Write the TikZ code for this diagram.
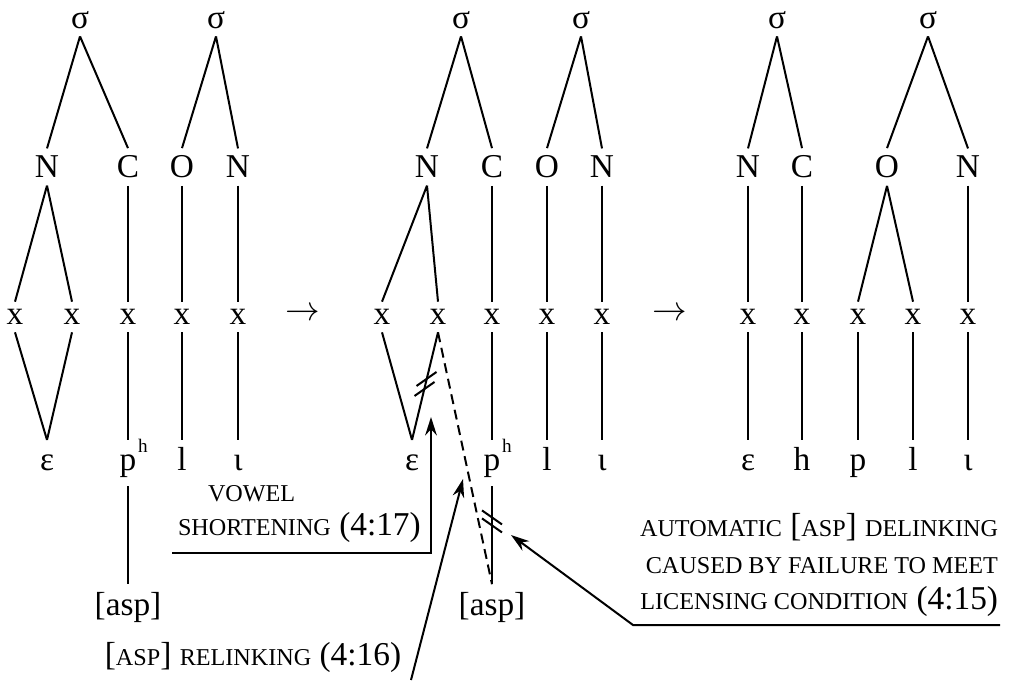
\documentclass[tikz,border=0pt]{standalone}
\usepackage{fontspec}
\setmainfont{Liberation Serif}
\usetikzlibrary{arrows.meta}
\newcommand\smc[1]{{\fontsize{14.5}{22}\selectfont #1}}
\newcommand\paspir{p\rlap{\kern1pt\raisebox{1.2ex}{\fontsize{11.5}{11.5}\selectfont h}}}

\begin{document}
\begin{tikzpicture}[x=0.6pt,y=-0.6pt,line width=1.2pt,>={Stealth[length=11pt,width=7pt]},
  every node/.style={inner sep=4pt,font=\fontsize{20}{22}\selectfont},
  seg/.style={text height=14pt,text depth=4.5pt},
  lbl/.style={inner sep=0pt}]
  \useasboundingbox (0,0) rectangle (1009,680);
  % input form
  \node (s1a) at (80,20) {σ};
  \node (s1b) at (216,20) {σ};
  \node (n1a) at (47,167) {N};
  \node (c1a) at (128,167) {C};
  \node (o1b) at (182,167) {O};
  \node (n1b) at (238,167) {N};
  \node (x1a) at (15,317) {x};
  \node (x1b) at (72,317) {x};
  \node (x1c) at (128,317) {x};
  \node (x1d) at (182,317) {x};
  \node (x1e) at (238,317) {x};
  \node[seg] (e1) at (47,463) {ε};
  \node[seg] (p1) at (128,463) {\paspir};
  \node[seg] (l1) at (182,463) {l};
  \node[seg] (i1) at (238,463) {ι};
  \node (asp1) at (128,607) {[asp]};
  \draw (s1a.south) -- (n1a.north) (s1a.south) -- (c1a.north);
  \draw (s1b.south) -- (o1b.north) (s1b.south) -- (n1b.north);
  \draw (n1a.south) -- (x1a.north) (n1a.south) -- (x1b.north);
  \draw (c1a) -- (x1c) (o1b) -- (x1d) (n1b) -- (x1e);
  \draw (x1a.south) -- (e1.north) (x1b.south) -- (e1.north);
  \draw (x1c) -- (p1) (x1d) -- (l1) (x1e) -- (i1);
  \draw (p1) -- (asp1);
  \node (ar1) at (303,314) {$\rightarrow$};
  % intermediate form
  \node (s2a) at (461,20) {σ};
  \node (s2b) at (581,20) {σ};
  \node (n2a) at (427,167) {N};
  \node (c2a) at (492,167) {C};
  \node (o2b) at (547,167) {O};
  \node (n2b) at (602,167) {N};
  \node (x2a) at (382,317) {x};
  \node (x2b) at (438,317) {x};
  \node (x2c) at (492,317) {x};
  \node (x2d) at (547,317) {x};
  \node (x2e) at (602,317) {x};
  \node[seg] (e2) at (412,463) {ε};
  \node[seg] (p2) at (492,463) {\paspir};
  \node[seg] (l2) at (547,463) {l};
  \node[seg] (i2) at (602,463) {ι};
  \node (asp2) at (492,607) {[asp]};
  \draw (s2a.south) -- (n2a.north) (s2a.south) -- (c2a.north);
  \draw (s2b.south) -- (o2b.north) (s2b.south) -- (n2b.north);
  \draw (n2a.south) -- (x2a.north) (n2a.south) -- (x2b.north);
  \draw (c2a) -- (x2c) (o2b) -- (x2d) (n2b) -- (x2e);
  \draw (x2a.south) -- (e2.north) (x2b.south) -- (e2.north) coordinate[pos=.48] (cutA);
  \draw (x2c) -- (p2) (x2d) -- (l2) (x2e) -- (i2);
  \draw (p2) -- (asp2) coordinate[pos=.36] (cutB);
  \draw[dashed,dash pattern=on 6pt off 3.5pt] (x2b.south) -- (asp2.north);
  % delinking marks
  \draw ([shift={(-11,12)}]cutA) -- ([shift={(9,-2)}]cutA);
  \draw ([shift={(-9,2)}]cutA) -- ([shift={(11,-12)}]cutA);
  \draw ([shift={(-10,-11)}]cutB) -- ([shift={(10,3)}]cutB);
  \draw ([shift={(-10,-3)}]cutB) -- ([shift={(10,11)}]cutB);
  \node (ar2) at (670,314) {$\rightarrow$};
  % output form
  \node (s3a) at (777,20) {σ};
  \node (s3b) at (928,20) {σ};
  \node (n3a) at (748,167) {N};
  \node (c3a) at (802,167) {C};
  \node (o3b) at (887,167) {O};
  \node (n3b) at (968,167) {N};
  \node (x3a) at (748,317) {x};
  \node (x3b) at (802,317) {x};
  \node (x3c) at (858,317) {x};
  \node (x3d) at (913,317) {x};
  \node (x3e) at (968,317) {x};
  \node[seg] (e3) at (748,463) {ε};
  \node[seg] (h3) at (802,463) {h};
  \node[seg] (p3) at (858,463) {p};
  \node[seg] (l3) at (913,463) {l};
  \node[seg] (i3) at (968,463) {ι};
  \draw (s3a.south) -- (n3a.north) (s3a.south) -- (c3a.north);
  \draw (s3b.south) -- (o3b.north) (s3b.south) -- (n3b.north);
  \draw (n3a) -- (x3a) (c3a) -- (x3b) (n3b) -- (x3e);
  \draw (o3b.south) -- (x3c.north) (o3b.south) -- (x3d.north);
  \draw (x3a) -- (e3) (x3b) -- (h3) (x3c) -- (p3) (x3d) -- (l3) (x3e) -- (i3);
  % rule labels
  \node[lbl,anchor=west,align=left,font=\fontsize{20}{20}\selectfont] (vsTxt) at (177,514)
    {\hspace*{18pt}\smc{VOWEL}\\ \smc{SHORTENING} (4:17)};
  \node[lbl] (rlTxt) at (253,657) {[\smc{ASP}] \smc{RELINKING} (4:16)};
  \node[lbl,anchor=east,align=right] (dlTxt) at (999,565)
    {\smc{AUTOMATIC} [\smc{ASP}] \smc{DELINKING}\\ \smc{CAUSED BY FAILURE TO MEET}\\ \smc{LICENSING CONDITION} (4:15)};
  \coordinate (vsL) at (172,553);
  \coordinate (vsT) at (431,417);
  \coordinate (rlB) at (411,680);
  \coordinate (rlT) at (463,479);
  \coordinate (dlR) at (1000,625);
  \coordinate (dlL) at (633,625);
  \coordinate (dlT) at (511,535);
  \draw[->] (vsL) -| (vsT);
  \draw[->] (rlB) -- (rlT);
  \draw[->] (dlR) -- (dlL) -- (dlT);
\end{tikzpicture}
\end{document}
